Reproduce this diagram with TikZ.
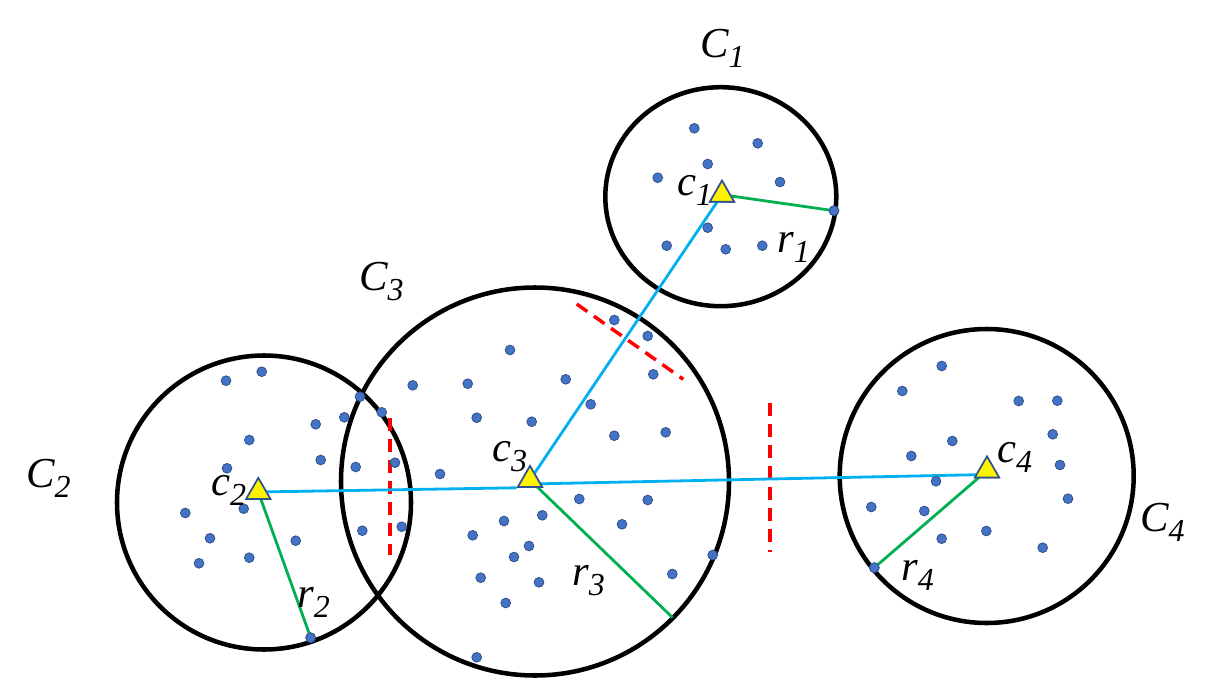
\documentclass[tikz,border=0pt]{standalone}
\usepackage{fontspec}
\setmainfont{Liberation Serif}
\newfontfamily\labfont{Liberation Serif Italic}
\usetikzlibrary{shapes.geometric}
\definecolor{ptfill}{RGB}{68,114,196}
\definecolor{ptdraw}{RGB}{47,82,143}
\definecolor{linkblue}{RGB}{0,176,240}
\definecolor{radgreen}{RGB}{0,176,80}
\newcommand{\sublab}[2]{#1\raisebox{-8pt}{\fontsize{24}{24}\selectfont #2}}

\begin{document}
\begin{tikzpicture}[x=0.75pt,y=0.75pt,yscale=-1,xscale=1,
  sample/.style={circle,fill=ptfill,draw=ptdraw,line width=0.6pt,inner sep=0pt,minimum size=7.3pt},
  centroid/.style={regular polygon,regular polygon sides=3,fill=yellow,draw=ptdraw,line width=1.2pt,inner sep=0pt,minimum size=21pt},
  cluster/.style={line width=3.4pt},
  link/.style={draw=linkblue,line width=2.1pt},
  radline/.style={draw=radgreen,line width=2.1pt},
  split/.style={draw=red,line width=2.6pt,dash pattern=on 9.75pt off 6pt},
  lab/.style={anchor=base west,inner sep=0pt,font=\labfont\fontsize{32}{32}\selectfont}]
\useasboundingbox (0,0) rectangle (1207,678);

%Shape: Circle C1
\draw [cluster] (720.8,196.7) ellipse (115.5 and 109.5);
%Shape: Circle C2
\draw [cluster] (264,502.5) circle (147);
%Shape: Circle C3
\draw [cluster] (535,481.5) circle (194);
%Shape: Circle C4
\draw [cluster] (986.7,476) circle (147);

%Dashed Lines
\draw [split] (390,418) -- (390,555);
\draw [split] (770,403) -- (770,552);
\draw [split] (576.7,304) -- (683.3,379.3);

%Shape: Triangles (centres)
\node [centroid] (c1) at (722,194.7) {};
\node [centroid] (c2) at (258.3,492) {};
\node [centroid] (c3) at (530,480) {};
\node [centroid] (c4) at (987,470.5) {};

%Points on the radii
\node [sample] (p1) at (834,210.7) {};
\node [sample] (p2) at (310.7,637.7) {};
\coordinate (p3) at (672.7,617.7);
\node [sample] (p4) at (874.3,567.7) {};

%Straight Lines
\draw [link] (c2.center) -- (c3.corner 2);
\draw [link] (c3.center) -- (c1.center);
\draw [link] ([yshift=3pt]c3.center) -- ([yshift=3pt]c4.center);
\draw [radline] (c1.center) -- (p1.center);
\draw [radline] (c2.center) -- (p2.center);
\draw [radline] (c3.center) -- (p3);
\draw [radline] (c4.center) -- (p4.center);

%Shape: Triangles on top
\foreach \k in {1,...,4}
  \node [centroid] at (c\k) {};

%Shape: Points
\foreach \px/\py [count=\i] in {
  694.3/128.3, 757.7/143.3, 707.7/164, 657.7/177.7, 780/182, 707.7/227.7, 666.7/245.7, 725.7/249.3, 762.3/245.7,
  261.7/371.7, 226/380.7, 360/396.7, 381.7/412.3, 344.3/417.3, 315.7/424.3, 249.3/440, 320.7/460, 355.7/467, 395/462.7,
  227/468.3, 243.7/508.7, 185.3/513, 210/538.3, 295.7/540.7, 362.3/530.7, 401.7/526.7, 199/563.3, 249.3/557.7,
  614.3/320, 647.7/336, 510/350, 653.3/374.3, 412.7/385.3, 467.7/383.7, 565.7/379.3, 590.7/404.3, 476.7/417.7,
  531.7/421.7, 614.3/435.7, 665.7/432.3, 440/474, 579.3/499, 647.7/500, 542.3/515.3, 504/521, 622/524.3,
  472.7/535.3, 529/546, 514/557, 712.7/555, 480.7/577.7, 539/582.3, 672.3/574, 505.7/603, 476.7/657.3,
  941.7/366, 902.3/391, 1018.7/401, 1057.3/400.7, 1052.7/434.3, 952.3/441, 911.3/456, 1060/465, 936/481.3,
  1068/498.7, 871.3/507, 924.3/511, 941.7/538.7, 986.3/531, 1042.7/547.7}
  \node [sample] (d\i) at (\px,\py) {};
\node [sample] at (p1) {};
\node [sample] at (p2) {};
\node [sample] at (p4) {};

% Text Node
\node [lab] (L1) at (700,57) {\sublab{C}{1}};
\node [lab] (L2) at (26,487) {\sublab{C}{2}};
\node [lab] (L3) at (359,290) {\sublab{C}{3}};
\node [lab] (L4) at (1140,531) {\sublab{C}{4}};
% Text Node
\node [lab] (l1) at (677,195) {\sublab{c}{1}};
\node [lab] (l2) at (211,495) {\sublab{c}{2}};
\node [lab] (l3) at (492,461) {\sublab{c}{3}};
\node [lab] (l4) at (997,462) {\sublab{c}{4}};
% Text Node
\node [lab] (s1) at (777,252) {\sublab{r}{1}};
\node [lab] (s2) at (297,607) {\sublab{r}{2}};
\node [lab] (s3) at (572,585) {\sublab{r}{3}};
\node [lab] (s4) at (901,580) {\sublab{r}{4}};

\end{tikzpicture}
\end{document}
